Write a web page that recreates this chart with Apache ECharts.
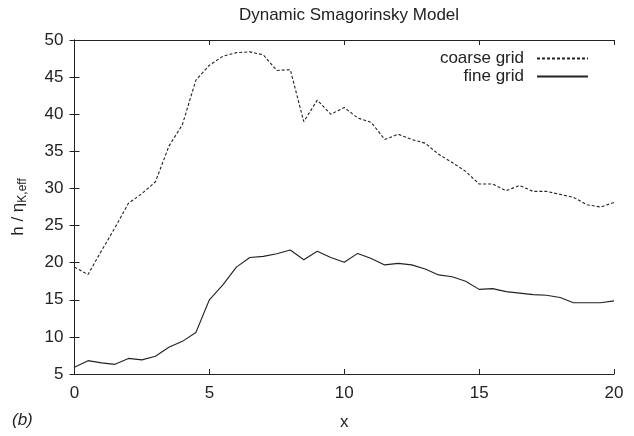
<!DOCTYPE html>
<html>
<head>
<meta charset="utf-8">
<script src="https://cdn.jsdelivr.net/npm/echarts@6/dist/echarts.min.js"></script>
<style>
  html, body { margin: 0; padding: 0; background: #fff; }
  #chart { width: 634px; height: 436px; }
</style>
</head>
<body>
<div id="chart"></div>
<script>
// Sample positions along x (every 0.5)
const xs = [0, 0.5, 1, 1.5, 2, 2.5, 3, 3.5, 4, 4.5, 5, 5.5, 6, 6.5, 7, 7.5, 8, 8.5, 9, 9.5,
            10, 10.5, 11, 11.5, 12, 12.5, 13, 13.5, 14, 14.5, 15, 15.5, 16, 16.5, 17, 17.5, 18, 18.5, 19, 19.5, 20];

// h / eta_K,eff for the coarse grid run
const coarseGrid = [19.4, 18.4, 21.6, 24.7, 28.0, 29.3, 30.9, 35.7, 38.6, 44.6, 46.6, 47.8, 48.3, 48.4, 48.0, 45.9, 46.0, 39.0, 41.9, 40.0,
                    40.9, 39.5, 38.9, 36.6, 37.3, 36.6, 36.1, 34.6, 33.5, 32.3, 30.6, 30.6, 29.7, 30.4, 29.6, 29.6, 29.2, 28.8, 27.8, 27.5, 28.1];

// h / eta_K,eff for the fine grid run
const fineGrid = [5.9, 6.8, 6.5, 6.3, 7.1, 6.9, 7.4, 8.6, 9.4, 10.6, 15.0, 17.0, 19.4, 20.7, 20.85, 21.2, 21.7, 20.4, 21.55, 20.7,
                  20.05, 21.25, 20.55, 19.7, 19.9, 19.7, 19.15, 18.35, 18.1, 17.5, 16.4, 16.5, 16.1, 15.9, 15.7, 15.6, 15.3, 14.6, 14.6, 14.6, 14.85];

const seriesNames = ['coarse grid', 'fine grid'];
const chartTitle = 'Dynamic Smagorinsky Model';
const xLabel = 'x';
const panelTag = '(b)';

const FONT = '"Liberation Sans", Arial, sans-serif';
const INK = '#222';
const FS = 17;

const pairs = (vals) => xs.map((x, i) => [x, vals[i]]);

const chart = echarts.init(document.getElementById('chart'), null, { renderer: 'canvas' });

const frameAxis = {
  axisLine: { show: true, lineStyle: { color: INK, width: 1 } },
  axisTick: { show: true, inside: true, length: 5, lineStyle: { color: INK, width: 1 } },
  splitLine: { show: false }
};

// gnuplot-style key: text on the left, line sample on the right, right-aligned rows
const keyEntry = (name, top) => ({
  data: [name], right: 40, top: top, align: 'right',
  itemWidth: 51, itemHeight: 10, itemGap: 0,
  itemStyle: { opacity: 0 },
  textStyle: { fontFamily: FONT, fontSize: FS, color: INK, padding: [0, 8, 0, 0] },
  selectedMode: false
});

chart.setOption({
  animation: false,
  backgroundColor: '#fff',
  title: {
    text: chartTitle,
    left: 344, top: 2, textAlign: 'center',
    textStyle: { fontFamily: FONT, fontSize: FS, fontWeight: 'normal', color: INK }
  },
  grid: { left: 74, right: 20, top: 40, bottom: 55 },
  legend: [keyEntry(seriesNames[0], 45), keyEntry(seriesNames[1], 63)],
  xAxis: [
    Object.assign({
      type: 'value', min: 0, max: 20, interval: 5, position: 'bottom',
      name: xLabel, nameLocation: 'middle', nameGap: 40,
      nameTextStyle: { fontFamily: FONT, fontSize: FS, color: INK },
      axisLabel: { fontFamily: FONT, fontSize: FS, color: INK, margin: 11 }
    }, frameAxis),
    Object.assign({
      type: 'value', min: 0, max: 20, interval: 5, position: 'top',
      axisLabel: { show: false }
    }, frameAxis)
  ],
  yAxis: [
    Object.assign({
      type: 'value', min: 5, max: 50, interval: 5, position: 'left',
      name: '{a|h / η}{s|K,eff}', nameLocation: 'middle', nameGap: 44, nameRotate: 90,
      nameTextStyle: {
        fontFamily: FONT, color: INK,
        rich: {
          a: { fontFamily: FONT, fontSize: FS, color: INK, lineHeight: 24 },
          s: { fontFamily: FONT, fontSize: 12, color: INK, lineHeight: 24, padding: [9, 0, 0, 0] }
        }
      },
      axisLabel: { fontFamily: FONT, fontSize: FS, color: INK, margin: 11 }
    }, frameAxis),
    Object.assign({
      type: 'value', min: 5, max: 50, interval: 5, position: 'right',
      axisLabel: { show: false }
    }, frameAxis)
  ],
  series: [
    {
      name: seriesNames[0], type: 'line', data: pairs(coarseGrid),
      symbol: 'none', color: INK,
      lineStyle: { color: INK, width: 1.1, type: [3, 2] }
    },
    {
      name: seriesNames[1], type: 'line', data: pairs(fineGrid),
      symbol: 'none', color: INK,
      lineStyle: { color: INK, width: 1.1, type: 'solid' }
    }
  ],
  graphic: [
    {
      type: 'text', left: 12, top: 412,
      style: { text: panelTag, fontFamily: FONT, fontSize: FS, fontStyle: 'italic', fill: INK }
    }
  ]
});
</script>
</body>
</html>
